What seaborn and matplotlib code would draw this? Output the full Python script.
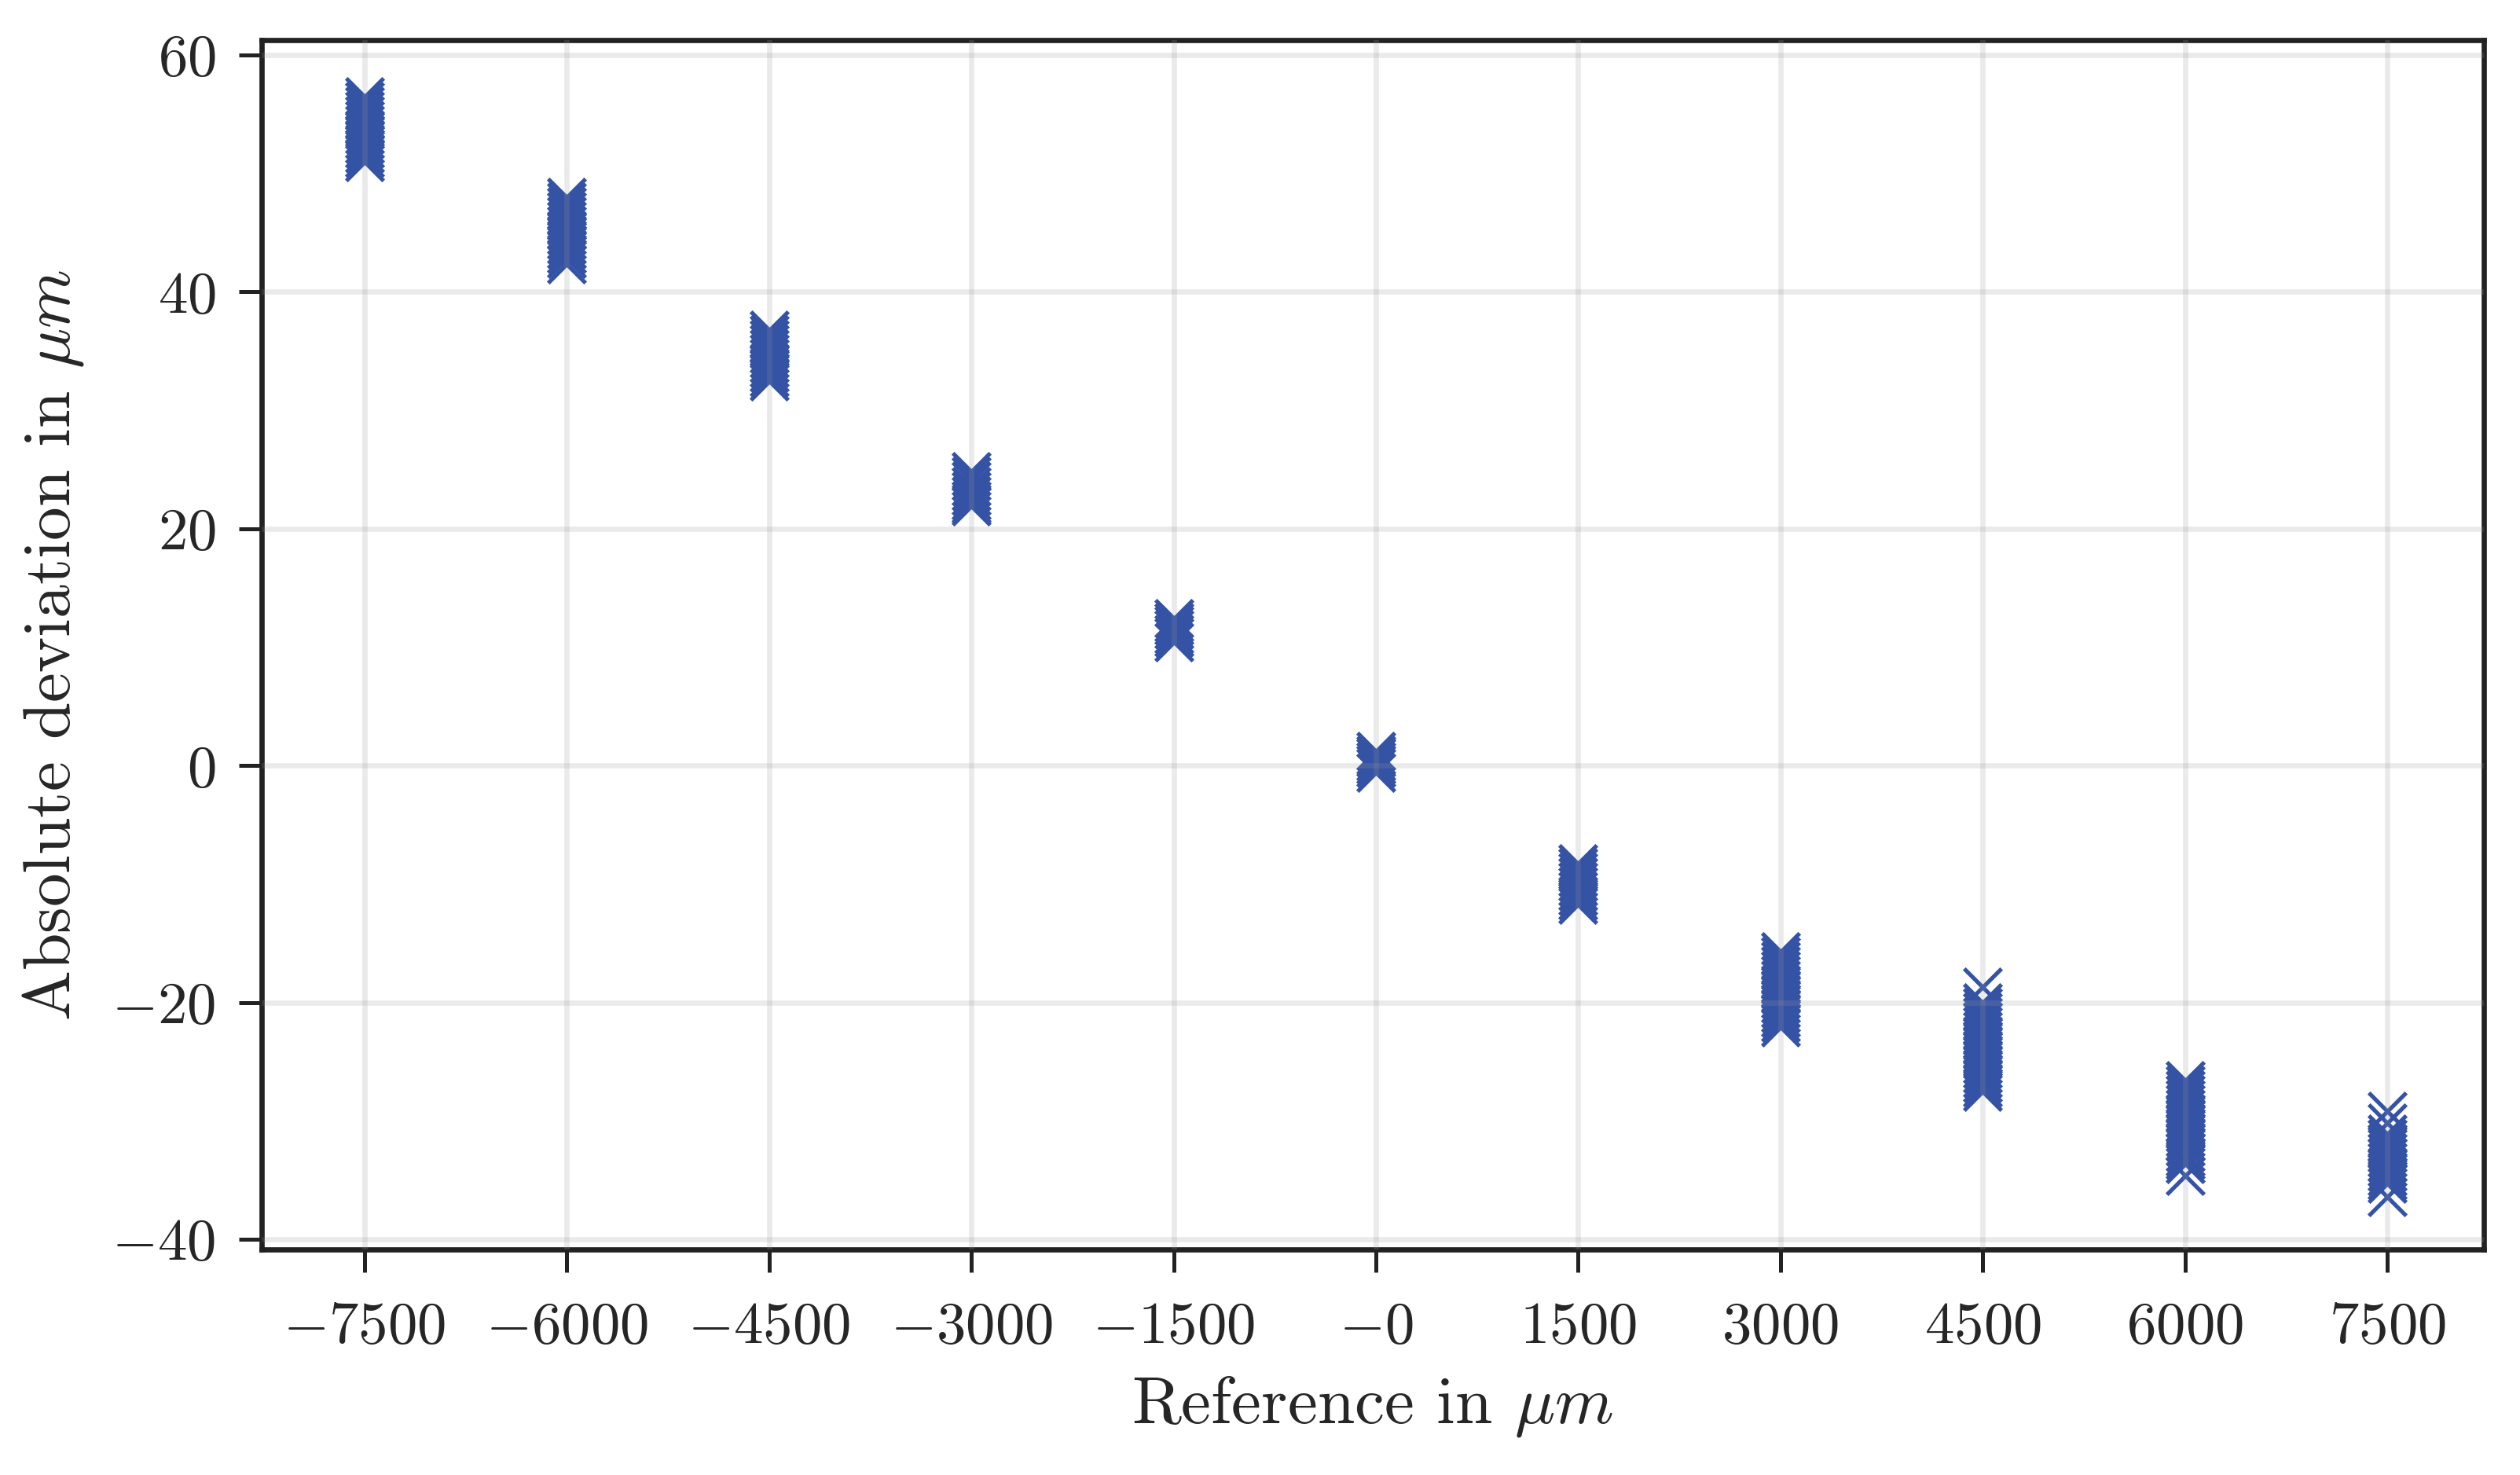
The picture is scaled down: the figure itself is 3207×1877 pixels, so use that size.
import numpy as np
import pandas as pd
import seaborn as sns
import matplotlib
matplotlib.use("Agg")
import matplotlib.pyplot as plt

reference = [-7500, -6000, -4500, -3000, -1500, 0, 1500, 3000, 4500, 6000, 7500]
tick_labels = ["$-7500$", "$-6000$", "$-4500$", "$-3000$", "$-1500$", "$-0$",
               "$1500$", "$3000$", "$4500$", "$6000$", "$7500$"]

dev_m7500 = [56.5, 56.1, 55.7, 55.3, 54.9, 54.5, 54.1, 53.7, 53.3, 52.9, 52.5, 52.1, 51.7, 51.3, 51.0]
dev_m6000 = [48.0, 47.6, 47.2, 46.8, 46.4, 46.0, 45.6, 45.2, 44.8, 44.4, 44.0, 43.6, 43.2, 42.8, 42.35]
dev_m4500 = [36.8, 36.4, 36.0, 35.6, 35.2, 34.8, 34.4, 34.0, 33.6, 33.2, 32.8, 32.45]
dev_m3000 = [24.8, 24.4, 24.0, 23.6, 23.2, 22.8, 22.4, 22.1, 21.9]
dev_m1500 = [12.45, 12.1, 11.8, 11.5, 11.1, 10.8, 10.45]
dev_0 = [1.22, 0.9, 0.65, 0.35, 0.1, -0.2, -0.57]
dev_1500 = [-8.27, -8.6, -9.0, -9.4, -9.8, -10.2, -10.6, -11.0, -11.4, -11.72]
dev_3000 = [-15.7, -16.1, -16.5, -16.9, -17.3, -17.7, -18.1, -18.5, -18.9, -19.3,
            -19.7, -20.1, -20.5, -20.9, -21.3, -21.7, -22.07]
dev_4500 = [-18.7, -20.0, -20.4, -20.8, -21.2, -21.6, -22.0, -22.4, -22.8, -23.2,
            -23.6, -24.0, -24.4, -24.8, -25.2, -25.6, -26.0, -26.4, -26.8, -27.2, -27.54]
dev_6000 = [-26.6, -27.0, -27.4, -27.8, -28.2, -28.6, -29.0, -29.4, -29.8, -30.2,
            -30.6, -31.0, -31.4, -31.8, -32.2, -32.6, -33.0, -33.3, -33.6, -34.6]
dev_7500 = [-29.2, -30.2, -31.1, -31.5, -31.9, -32.3, -32.7, -33.1, -33.5, -33.9,
            -34.3, -34.7, -35.0, -35.3, -36.4]

groups = [dev_m7500, dev_m6000, dev_m4500, dev_m3000, dev_m1500, dev_0,
          dev_1500, dev_3000, dev_4500, dev_6000, dev_7500]

df = pd.DataFrame({
    "ref": [r for r, g in zip(reference, groups) for _ in g],
    "dev": [v for g in groups for v in g],
})

sns.set_theme(style="ticks")
plt.rcParams["font.family"] = ["cmr10"]
plt.rcParams["mathtext.fontset"] = "cm"
plt.rcParams["axes.formatter.use_mathtext"] = True
plt.rcParams["axes.unicode_minus"] = True

fig = plt.figure(figsize=(10.693, 6.257), dpi=300)
ax = fig.add_axes([0.1038, 0.1529, 0.8815, 0.8199])

sns.scatterplot(data=df, x="ref", y="dev", marker="x", s=130, color="#3553a5",
                linewidth=1.25, ax=ax, legend=False)

ax.set_xlim(-8263, 8215)
ax.set_ylim(-40.86, 61.26)
ax.set_xticks(reference)
ax.set_xticklabels(tick_labels)
yt = [-40, -20, 0, 20, 40, 60]
ax.set_yticks(yt)
ax.set_yticklabels([f"${v}$" for v in yt])

ax.grid(True, color="0.6", alpha=0.2, linewidth=1.6)
ax.set_axisbelow(False)
for sp in ax.spines.values():
    sp.set_linewidth(1.6)
    sp.set_color("#222222")
ax.tick_params(labelsize=18, length=7, width=1.2, pad=7, color="#222222")
ax.tick_params(axis="x", pad=9)

ax.set_xlabel(r"Reference in $\mu m$", fontsize=20.5, labelpad=6)
ax.set_ylabel(r"Absolute deviation in $\mu m$", fontsize=20.5, labelpad=8)

fig.savefig("out.png", dpi=300)
